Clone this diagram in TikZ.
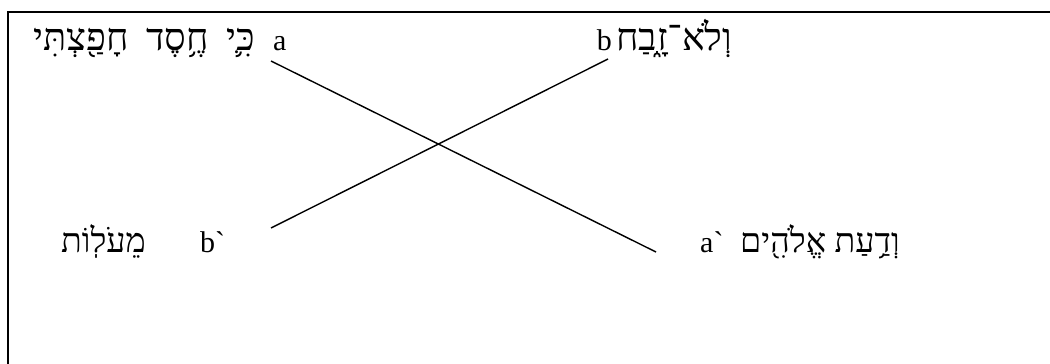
\documentclass[tikz,border=0pt]{standalone}
\usepackage{fontspec}
\setmainfont{Liberation Serif}
\newfontfamily\hebfont[Script=Hebrew]{Liberation Serif}
\TeXXeTstate=1
\newcommand{\heb}[1]{{\hebfont\beginR #1\endR}}
\usetikzlibrary{positioning}

\begin{document}
\begin{tikzpicture}[x=1pt, y=-1pt, font=\fontsize{30}{36}\selectfont,
  txt/.style={inner sep=0pt},
  hebtop/.style={txt, font=\fontsize{38}{44}\selectfont},
  hebbot/.style={txt, font=\fontsize{34}{40}\selectfont},
  cross/.style={line width=1.4pt}]
\useasboundingbox (0,0) rectangle (1050,364);
% frame, only top and left edge inside the page
\draw[line width=2pt] (1050,12) -- (8,12) -- (8,364);
% top row: a ... b
\node[hebtop, anchor=base east] (kihesed) at (255,50)
  {\heb{כִּ֛י\hspace{8pt} חֶ֥סֶד\hspace{8pt} חָפַ֖צְתִּי}};
\node[txt, anchor=base west] (a) at (273,50) {a};
\node[txt, anchor=base east] (b) at (612,50) {b};
\node[hebtop, anchor=base west] (lozevah) at (616,50) {\heb{וְלֹא־זָ֑בַח}};
% bottom row: b` ... a`
\node[hebbot, anchor=base east] (meolot) at (146,252) {\heb{מֵעֹלֽוֹת}};
\node[txt, anchor=base west] (b2) at (200,252) {b\textasciigrave};
\node[txt, anchor=base west] (a2) at (700,252) {a\textasciigrave};
\node[hebbot, anchor=base west] (daat) at (740,252) {\heb{וְדַ֥עַת אֱלֹהִ֖ים}};
% crossing lines
\coordinate (aTop) at (271,61);
\coordinate (aBot) at (656,252);
\coordinate (bTop) at (608,59);
\coordinate (bBot) at (271,228);
\draw[cross] (aTop) -- (aBot);
\draw[cross] (bTop) -- (bBot);
\end{tikzpicture}
\end{document}
